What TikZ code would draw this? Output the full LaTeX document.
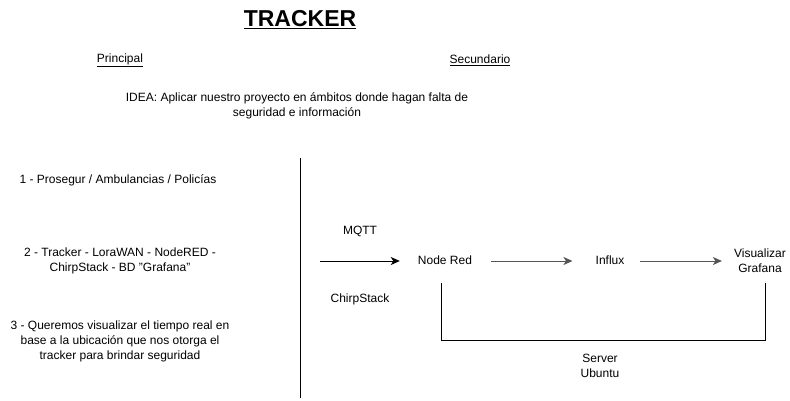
\documentclass[tikz,border=0pt]{standalone}
\usepackage{fontspec}
\setmainfont{Liberation Sans}
\usetikzlibrary{arrows.meta}
\definecolor{flowgray}{HTML}{555555}
\tikzset{
  txt/.style={align=center,font=\fontsize{12}{15}\selectfont,inner sep=0pt},
  flow/.style={-{Stealth[length=9pt,width=8pt,inset=2.5pt]},line width=1pt}
}
\begin{document}
\begin{tikzpicture}[x=1pt,y=-1pt]
    \useasboundingbox (0,0) rectangle (790,401);
    \begin{scope}[txt]
      \node [font=\fontsize{23}{26}\selectfont\bfseries] (title) at (300,20) {\underline{TRACKER}};
      \node (principal) at (120,60) {\underline{Principal}};
      \node (secundario) at (480,60) {\underline{Secundario}};
      \node (idea) at (297,106) {IDEA: Aplicar nuestro proyecto en ámbitos donde hagan falta de\\seguridad e información};

      \node (uno) at (118,180) {1 - Prosegur / Ambulancias / Policías};
      \node (dos) at (120,261) {2 - Tracker - LoraWAN - NodeRED -\\ChirpStack - BD "Grafana"};
      \node (tres) at (120,341) {3 - Queremos visualizar el tiempo real en\\base a la ubicación que nos otorga el\\tracker para brindar seguridad};

      \node (mqtt) at (360,231) {MQTT};
      \node (chirp) at (360,299) {ChirpStack};
      \node (nodered) at (445,260) {Node Red};
      \node (influx) at (610,260) {Influx};
      \node (grafana) at (760,261) {Visualizar\\Grafana};
      \node (server) at (600,366) {Server\\Ubuntu};
    \end{scope}

    \coordinate (divtop) at (300,158);
    \coordinate (divbot) at (300,398);
    \draw [line width=0.9pt] (divtop) -- (divbot);

    \coordinate (mqttin) at (320,261);
    \draw [flow] (mqttin) -- ([xshift=-18pt]nodered.west |- mqttin);
    \draw [flow,flowgray] ([xshift=19pt]nodered.east |- mqttin) -- ([xshift=-23pt]influx.west |- mqttin);
    \draw [flow,flowgray] ([xshift=15pt]influx.east |- mqttin) -- ([xshift=-12pt]grafana.west |- mqttin);

    \coordinate (srvL) at (441,283);
    \coordinate (srvR) at (765,283);
    \draw [line width=0.9pt] (srvL) -- ++(0,57) -| (srvR);
\end{tikzpicture}
\end{document}
